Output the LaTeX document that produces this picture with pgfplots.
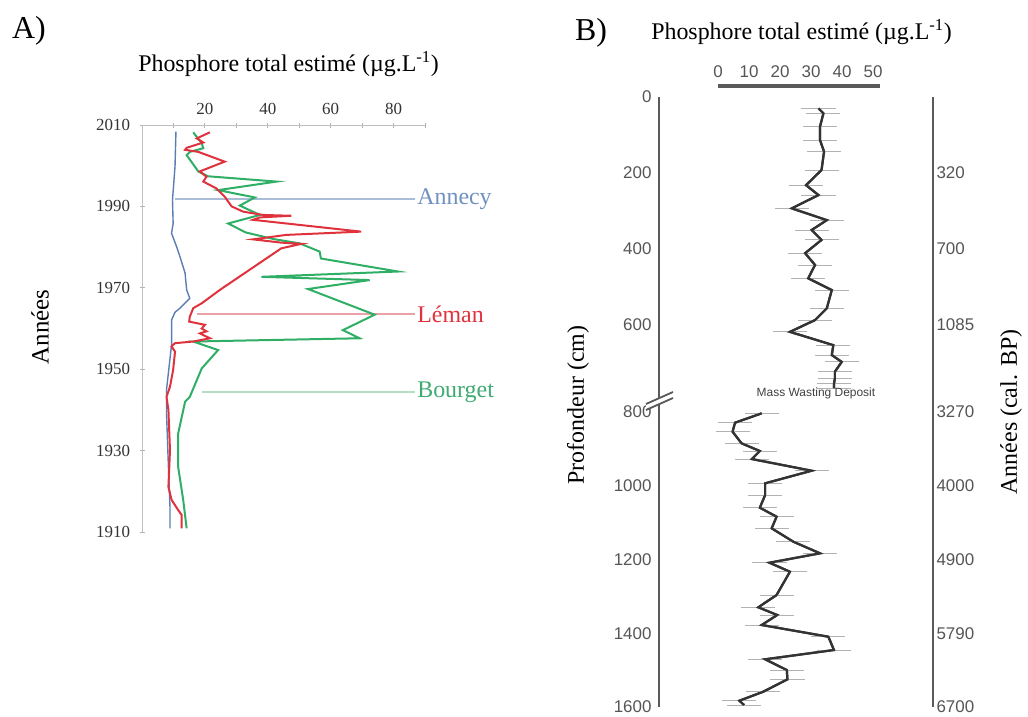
\documentclass[border=0pt]{standalone}
\usepackage{fontspec}
\setmainfont{Liberation Serif}
\newfontfamily\arial{Liberation Sans}
\usepackage{pgfplots}
\usepackage{pgfplotstable}
\pgfplotsset{compat=1.18}
\definecolor{annecy}{HTML}{5B7DB3}
\definecolor{annecyL}{HTML}{A9BCD8}
\definecolor{annecyT}{HTML}{7090C0}
\definecolor{leman}{HTML}{E0323C}
\definecolor{lemanL}{HTML}{E9A3A6}
\definecolor{bourget}{HTML}{2FAE66}
\definecolor{bourgetL}{HTML}{B3DEC5}
\definecolor{bourgetT}{HTML}{3FAA72}
\definecolor{spine}{HTML}{5A5A5A}
\definecolor{btext}{HTML}{555555}
\newcommand{\fs}[1]{\fontsize{#1}{#1}\selectfont}

\pgfplotstableread{
x y
32.4 29.8
34.0 43
32.9 78
32.9 113
34.2 144
33.4 192
28.4 232
32.4 258
23.8 293
35.1 324
30.2 350
33.4 376
28.1 411
31.3 442
29.1 477
36.7 508
35.1 556
31.3 587
23.2 618
37.2 653
36.7 679
39.9 697
37.7 723
37.7 740
37.4 755
37.4 767
}\upperseg

\pgfplotstableread{
x y
14.1 803.5
5.5 829
4.7 853.4
7.6 884.9
13.5 905.8
10.9 927.5
30.2 959.2
15.2 993.4
15.2 1025.1
13.5 1059.5
18.9 1083.9
17.3 1115.4
24.3 1151.7
32.9 1183.2
16.6 1208.7
23.2 1233.1
18.9 1296.3
13.0 1329.6
19.1 1350.5
14.1 1377.6
35.6 1409.4
37.4 1445.4
15.2 1470.6
22.2 1499.7
22.4 1524.9
14.6 1558.5
6.9 1582.9
8.4 1594.6
}\lowerseg

\begin{document}
\begin{tikzpicture}
\useasboundingbox (0,0) rectangle (1028bp,-717bp);

% ---------- Panel A texts
\node[anchor=base west, inner sep=0] at (12bp,-38bp) {\fs{32}A)};
\node[anchor=base, inner sep=0] at (288.5bp,-71bp) {\fs{24}Phosphore total estimé (µg.L\textsuperscript{-1})};
\node[rotate=90, inner sep=0] at (40bp,-327bp) {\fs{25}Années};

% ---------- Panel A axis
\begin{axis}[
  at={(142bp,-532bp)}, anchor=south west, scale only axis,
  width=283bp, height=407bp,
  xmin=0, xmax=90, ymin=1910, ymax=2010,
  axis x line=top, axis y line=left,
  axis line style={-, draw=black!25, line width=1bp},
  xtick={20,40,60,80}, xticklabels={20,40,60,80},
  minor xtick={10,30,50,70,90},
  ytick={1910,1930,1950,1970,1990,2010},
  yticklabels={1910,1930,1950,1970,1990,2010},
  tick style={draw=black!30, line width=0.8bp},
  major tick length=5bp, minor tick length=5bp,
  tick align=center,
  xticklabel style={font=\fs{17}, text=black!80, yshift=4bp},
  yticklabel style={font=\fs{17}, text=black!80, xshift=-6bp},
  clip=false,
]
% label lines
\addplot[annecyL, line width=1.5bp] coordinates {(10.5,1991.8) (86.7,1991.8)};
\addplot[lemanL, line width=1.5bp] coordinates {(17.5,1963.6) (86.7,1963.6)};
\addplot[bourgetL, line width=1.5bp] coordinates {(19.0,1944.4) (86.7,1944.4)};
% Annecy
\addplot[annecy, line width=1.4bp] coordinates {
(10.8,2008.4) (10.5,1999.8) (9.7,1991.6) (9.9,1985.8) (9.4,1983.4) (11.0,1980.1)
(12.1,1977.6) (13.7,1973.6) (14.2,1969.5) (15.2,1967.4) (12.1,1965.0) (10.5,1964.0)
(9.4,1962.1) (9.4,1956.0) (7.8,1945.0) (7.8,1939.2) (8.4,1926.0) (8.9,1916.2) (8.9,1910.9)};
% Bourget
\addplot[bourget, line width=2bp] coordinates {
(16.3,2008.2) (19.0,2005.5) (19.5,2004.3) (15.2,2003.4) (14.2,2002.6) (17.9,1998.6)
(21.0,1997.4) (42.8,1996.1) (24.2,1994.0) (35.9,1992.2) (31.1,1990.2) (37.5,1987.9)
(27.4,1985.8) (33.0,1983.6) (41.7,1982.0) (50.2,1980.9) (56.5,1978.9) (56.9,1977.2)
(81.4,1974.0) (38.0,1972.7) (72.4,1971.9) (52.8,1969.7) (74.0,1963.4) (63.9,1959.6)
(69.2,1957.6) (16.3,1956.8) (24.2,1954.7) (19.0,1950.2) (15.2,1943.2) (13.7,1942.0)
(11.5,1934.2) (11.5,1926.0) (13.1,1917.9) (14.2,1910.9)};
% Leman
\addplot[leman, line width=2bp] coordinates {
(21.6,2008.2) (17.4,2006.7) (19.5,2005.7) (14.2,2004.4) (13.7,2003.9) (17.9,2003.4)
(26.3,2001.0) (18.4,1998.6) (20.5,1997.3) (19.5,1996.1) (23.7,1994.4) (26.3,1992.4)
(28.5,1990.0) (32.2,1988.7) (38.5,1987.9) (47.5,1987.7) (37.5,1987.3) (35.3,1986.7)
(69.7,1983.8) (45.9,1983.0) (35.3,1981.9) (44.3,1981.1) (50.7,1980.8) (44.3,1979.7)
(24.8,1969.5) (19.0,1966.2) (16.3,1965.0) (15.2,1962.9) (15.0,1961.7) (20.0,1960.9)
(19.0,1960.0) (20.5,1959.3) (18.4,1958.8) (21.6,1957.6) (16.3,1956.8) (10.5,1956.4)
(9.4,1955.6) (10.5,1954.3) (9.9,1949.8) (8.9,1945.7) (7.8,1943.2) (8.4,1940.0)
(8.9,1930.1) (8.4,1921.1) (9.4,1917.9) (11.5,1915.4) (12.6,1914.2) (12.6,1910.9)};
\node[anchor=west, text=annecyT, font=\fs{24}, inner sep=0] at (axis cs:87.5,1991.8) {Annecy};
\node[anchor=west, text=leman, font=\fs{24}, inner sep=0] at (axis cs:87.5,1963.6) {Léman};
\node[anchor=west, text=bourgetT, font=\fs{24}, inner sep=0] at (axis cs:87.5,1944.4) {Bourget};
\end{axis}

% ---------- Panel B texts
\node[anchor=base west, inner sep=0] at (575bp,-40bp) {\fs{32}B)};
\node[anchor=base, inner sep=0] at (801.5bp,-39bp) {\fs{24}Phosphore total estimé (µg.L\textsuperscript{-1})};
\node[rotate=90, inner sep=0] at (578bp,-405bp) {\fs{24}Profondeur (cm)};
\node[rotate=90, inner sep=0] at (1011bp,-412bp) {\fs{24}Années (cal. BP)};

% ---------- Panel B upper
\begin{axis}[
  at={(659bp,-399bp)}, anchor=south west, scale only axis,
  width=274bp, height=302bp,
  xmin=-19.03, xmax=69.35, ymin=0, ymax=794.7, y dir=reverse,
  axis line style={draw=none}, tick style={draw=none},
  major tick length=0pt,
  xticklabel pos=right,
  xtick={0,10,20,30,40,50}, xticklabels={0,10,20,30,40,50},
  ytick={0,200,400,600}, yticklabels={0,200,400,600},
  xticklabel style={font=\arial\fs{17}, text=btext, yshift=16bp},
  yticklabel style={font=\arial\fs{17}, text=btext, xshift=-4bp},
  clip=false,
]
\draw[spine, line width=2.5bp] (rel axis cs:0,0) -- (rel axis cs:0,1);
\draw[spine, line width=2.5bp] (rel axis cs:1,0) -- (rel axis cs:1,1);
\draw[spine, line width=3.2bp] (axis cs:0,-28.9) -- (axis cs:52.3,-28.9);
\addplot[black!80, line width=2.2bp, error bars/.cd, x dir=both, x fixed=5.5,
  error bar style={black!30, line width=0.9bp}, error mark=none] table {\upperseg};
\addplot[black!80, line width=2.2bp] table {\upperseg};
\node[anchor=west, font=\arial\fs{17}, text=btext] at (axis cs:69.35,200) {320};
\node[anchor=west, font=\arial\fs{17}, text=btext] at (axis cs:69.35,400) {700};
\node[anchor=west, font=\arial\fs{17}, text=btext] at (axis cs:69.35,600) {1085};
\end{axis}

% ---------- Panel B lower
\begin{axis}[
  at={(659bp,-707bp)}, anchor=south west, scale only axis,
  width=274bp, height=308bp,
  xmin=-19.03, xmax=69.35, ymin=764.7, ymax=1600, y dir=reverse,
  axis line style={draw=none}, tick style={draw=none},
  major tick length=0pt,
  xtick=\empty,
  ytick={800,1000,1200,1400,1600}, yticklabels={800,1000,1200,1400,1600},
  yticklabel style={font=\arial\fs{17}, text=btext, xshift=-4bp},
  clip=false,
]
\draw[spine, line width=2.5bp] (rel axis cs:0,0) -- (rel axis cs:0,1);
\draw[spine, line width=2.5bp] (rel axis cs:1,0) -- (rel axis cs:1,1);
\addplot[black!80, line width=2.2bp, error bars/.cd, x dir=both, x fixed=5.5,
  error bar style={black!30, line width=0.9bp}, error mark=none] table {\lowerseg};
\addplot[black!80, line width=2.2bp] table {\lowerseg};
\node[anchor=west, font=\arial\fs{17}, text=btext] at (axis cs:69.35,800) {3270};
\node[anchor=west, font=\arial\fs{17}, text=btext] at (axis cs:69.35,1000) {4000};
\node[anchor=west, font=\arial\fs{17}, text=btext] at (axis cs:69.35,1200) {4900};
\node[anchor=west, font=\arial\fs{17}, text=btext] at (axis cs:69.35,1400) {5790};
\node[anchor=west, font=\arial\fs{17}, text=btext] at (axis cs:69.35,1600) {6700};
\node[font=\arial\fs{12}, text=black!75] at (axis cs:31.6,750) {Mass Wasting Deposit};
\end{axis}

% break marks on depth axis
\fill[white] (646bp,-404bp) -- (673bp,-392bp) -- (673bp,-398bp) -- (646bp,-410bp) -- cycle;
\draw[spine, line width=1.8bp] (646bp,-404bp) -- (673bp,-392bp);
\draw[spine, line width=1.8bp] (646bp,-410bp) -- (673bp,-398bp);
\end{tikzpicture}
\end{document}
